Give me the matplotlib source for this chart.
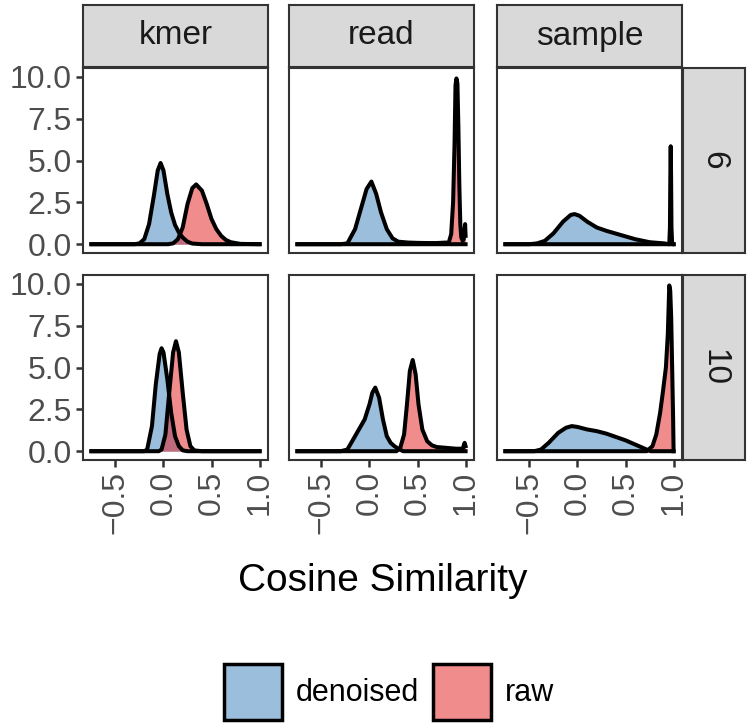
import numpy as np
import matplotlib.pyplot as plt
from matplotlib.patches import Patch
from matplotlib.colors import to_rgba

plt.rcParams['font.family'] = ['Liberation Sans', 'DejaVu Sans']

# facets
methods = ["kmer", "read", "sample"]
kvals = ["6", "10"]
groups = ["denoised", "raw"]

# densities, one (x, y) pair per panel and group
x_kmer6_den = [-0.75, -0.3, -0.25, -0.2, -0.15, -0.1, -0.06, -0.03, 0.0, 0.04, 0.08, 0.12, 0.16, 0.2, 0.25, 0.3, 0.4, 1.0]
y_kmer6_den = [0, 0, 0.05, 0.3, 1.2, 2.9, 4.4, 4.85, 4.4, 3.0, 1.9, 1.15, 0.7, 0.4, 0.15, 0.04, 0, 0]
x_kmer6_raw = [-0.75, 0.05, 0.1, 0.15, 0.2, 0.25, 0.3, 0.34, 0.4, 0.45, 0.5, 0.55, 0.6, 0.65, 0.7, 0.8, 1.0]
y_kmer6_raw = [0, 0, 0.05, 0.3, 1.0, 2.4, 3.35, 3.57, 3.2, 2.4, 1.5, 0.9, 0.5, 0.25, 0.12, 0.02, 0]

x_read6_den = [-0.75, -0.3, -0.23, -0.15, -0.08, -0.03, 0.02, 0.07, 0.12, 0.18, 0.24, 0.3, 0.4, 0.5, 0.6, 0.7, 0.8, 0.83, 1.0]
y_read6_den = [0, 0, 0.05, 0.9, 2.3, 3.3, 3.74, 3.0, 1.9, 0.9, 0.35, 0.15, 0.1, 0.08, 0.07, 0.07, 0.1, 0, 0]
x_read6_raw = [-0.75, 0.82, 0.85, 0.87, 0.885, 0.895, 0.905, 0.915, 0.925, 0.935, 0.945, 0.955, 0.97, 0.98, 0.99, 0.995, 1.0]
y_read6_raw = [0, 0, 0.6, 2.5, 6.0, 9.5, 9.9, 9.6, 7.0, 3.5, 1.2, 0.4, 0.2, 0.3, 0.9, 1.2, 0.5]

x_samp6_den = [-0.75, -0.5, -0.42, -0.34, -0.25, -0.15, -0.07, -0.03, 0.02, 0.1, 0.2, 0.3, 0.45, 0.6, 0.75, 0.9, 0.95, 1.0]
y_samp6_den = [0, 0, 0.05, 0.2, 0.65, 1.35, 1.75, 1.8, 1.7, 1.35, 1.0, 0.8, 0.55, 0.3, 0.12, 0.05, 0, 0]
x_samp6_raw = [-0.75, 0.955, 0.962, 0.966, 0.97, 0.974, 0.978, 0.985, 1.0]
y_samp6_raw = [0, 0, 1.0, 4.0, 5.85, 4.0, 1.0, 0, 0]

x_kmer10_den = [-0.75, -0.2, -0.17, -0.12, -0.08, -0.04, -0.02, 0.0, 0.04, 0.08, 0.12, 0.16, 0.2, 0.25, 1.0]
y_kmer10_den = [0, 0, 0.1, 1.5, 4.0, 5.8, 6.15, 5.9, 4.3, 2.3, 0.9, 0.3, 0.05, 0, 0]
x_kmer10_raw = [-0.75, -0.05, -0.02, 0.02, 0.06, 0.1, 0.13, 0.16, 0.2, 0.24, 0.28, 0.32, 0.4, 1.0]
y_kmer10_raw = [0, 0, 0.1, 1.0, 3.5, 5.9, 6.57, 5.9, 3.5, 1.3, 0.3, 0.05, 0, 0]

x_read10_den = [-0.75, -0.3, -0.23, -0.17, -0.1, -0.05, 0.0, 0.03, 0.06, 0.1, 0.14, 0.18, 0.22, 0.26, 0.3, 0.35, 1.0]
y_read10_den = [0, 0, 0.1, 0.7, 1.4, 1.9, 2.8, 3.5, 3.8, 3.2, 1.9, 0.9, 0.5, 0.3, 0.15, 0, 0]
x_read10_raw = [-0.75, 0.28, 0.32, 0.36, 0.39, 0.42, 0.45, 0.48, 0.51, 0.55, 0.6, 0.65, 0.7, 0.8, 0.9, 0.97, 0.99, 1.0]
y_read10_raw = [0, 0, 0.2, 1.0, 2.8, 4.8, 5.45, 4.6, 2.8, 1.3, 0.6, 0.35, 0.25, 0.2, 0.15, 0.15, 0.5, 0.3]

x_samp10_den = [-0.75, -0.45, -0.38, -0.3, -0.2, -0.12, -0.06, 0.0, 0.1, 0.2, 0.3, 0.4, 0.5, 0.6, 0.7, 0.76, 1.0]
y_samp10_den = [0, 0, 0.1, 0.5, 1.1, 1.4, 1.5, 1.45, 1.3, 1.2, 1.05, 0.85, 0.65, 0.4, 0.15, 0, 0]
x_samp10_raw = [-0.75, 0.72, 0.78, 0.82, 0.86, 0.89, 0.92, 0.94, 0.955, 0.965, 0.975, 0.985, 0.995, 1.0]
y_samp10_raw = [0, 0, 0.3, 1.0, 2.3, 3.6, 5.0, 7.0, 9.9, 9.6, 8.0, 5.0, 2.0, 0]

panels = {
    ("6", "kmer"): [(x_kmer6_den, y_kmer6_den), (x_kmer6_raw, y_kmer6_raw)],
    ("6", "read"): [(x_read6_den, y_read6_den), (x_read6_raw, y_read6_raw)],
    ("6", "sample"): [(x_samp6_den, y_samp6_den), (x_samp6_raw, y_samp6_raw)],
    ("10", "kmer"): [(x_kmer10_den, y_kmer10_den), (x_kmer10_raw, y_kmer10_raw)],
    ("10", "read"): [(x_read10_den, y_read10_den), (x_read10_raw, y_read10_raw)],
    ("10", "sample"): [(x_samp10_den, y_samp10_den), (x_samp10_raw, y_samp10_raw)],
}

fills = {"denoised": "#377EB8", "raw": "#E41A1C"}

W, H = 750, 728
fig = plt.figure(figsize=(W / 100, H / 100), dpi=100)


def px_axes(left, top, right, bottom, **kw):
    return fig.add_axes([left / W, 1 - bottom / H, (right - left) / W, (bottom - top) / H], **kw)


col_x = [(83, 268), (289, 474), (497, 682)]
row_y = [(68, 253), (275, 460)]
border = "#333333"

for r, k in enumerate(kvals):
    for c, m in enumerate(methods):
        x0, x1 = col_x[c]
        y0, y1 = row_y[r]
        ax = px_axes(x0, y0, x1, y1)
        for g, (xs, ys) in zip(groups, panels[(k, m)]):
            ax.fill_between(xs, ys, color=fills[g], alpha=0.5, lw=0)
            ax.plot(xs, ys, color="black", lw=2.9, solid_joinstyle="round")
        ax.set_xlim(-0.8375, 1.0875)
        ax.set_ylim(-0.525, 10.525)
        ax.set_xticks([-0.5, 0.0, 0.5, 1.0])
        ax.set_yticks([0, 2.5, 5, 7.5, 10])
        for s in ax.spines.values():
            s.set_color(border)
            s.set_linewidth(1.5)
        ax.tick_params(length=5, width=1.8, color=border, labelsize=23, labelcolor="#4D4D4D", pad=3)
        if c == 0:
            ax.set_yticklabels(["0.0", "2.5", "5.0", "7.5", "10.0"])
        else:
            ax.tick_params(axis="y", left=False, labelleft=False)
        if r == 1:
            ax.set_xticklabels(["\u22120.5", "0.0", "0.5", "1.0"], rotation=90, va="top")
        else:
            ax.tick_params(axis="x", bottom=False, labelbottom=False)

# top strips
for c, m in enumerate(methods):
    x0, x1 = col_x[c]
    sa = px_axes(x0, 5, x1, 67, facecolor="#D9D9D9")
    sa.set_xticks([])
    sa.set_yticks([])
    for s in sa.spines.values():
        s.set_color(border)
        s.set_linewidth(1.5)
    sa.text(0.5, 0.5, m, ha="center", va="center", fontsize=24, color="#1A1A1A", transform=sa.transAxes)

# right strips
for r, k in enumerate(kvals):
    y0, y1 = row_y[r]
    sa = px_axes(683, y0, 745, y1, facecolor="#D9D9D9")
    sa.set_xticks([])
    sa.set_yticks([])
    for s in sa.spines.values():
        s.set_color(border)
        s.set_linewidth(1.5)
    sa.text(0.5, 0.5, k, ha="center", va="center", rotation=-90, fontsize=24, color="#1A1A1A", transform=sa.transAxes)

fig.text(383 / W, 1 - 581 / H, "Cosine Similarity", ha="center", va="center", fontsize=28)

handles = [Patch(facecolor=to_rgba(fills[g], 0.5), edgecolor="black", lw=2.5) for g in groups]
fig.legend(handles, groups, loc="center", bbox_to_anchor=(389 / W, 1 - 692 / H), ncol=2, frameon=False,
           fontsize=22, handlelength=1.9, handleheight=2.4, handletextpad=0.45, columnspacing=0.45)

fig.savefig("out.png", dpi=100)
